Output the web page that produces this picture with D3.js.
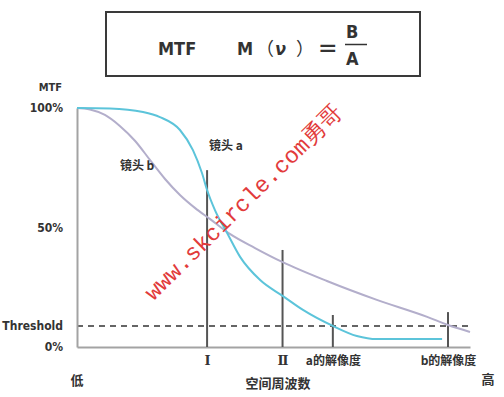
<!DOCTYPE html>
<html>
<head>
<meta charset="utf-8">
<script src="https://cdn.jsdelivr.net/npm/d3@7"></script>
<style>
  html, body { margin: 0; padding: 0; background: #fff; }
  svg { display: block; }
  .lbl { font-family: "DejaVu Sans Condensed", "DejaVu Sans", sans-serif; font-weight: bold; fill: #333; }
  .cjk { font-family: "Noto Sans CJK SC", sans-serif; font-weight: bold; fill: #333; }
</style>
</head>
<body>
<div id="chart"></div>
<script>
// spatial frequency runs 0..100 (low..high), MTF in percent
const lensAX = [0, 8.4, 16.8, 21.1, 26.2, 29.5, 31.8, 33.1, 35.1, 38.2, 41.5, 46.6, 52.4, 57.5, 65.1, 71.2, 76.3, 92.9];
const lensAY = [100, 99.8, 98.3, 96.2, 90.8, 82.4, 72.8, 65.7, 57.3, 47.7, 37.7, 28.0, 21.3, 15.5, 8.8, 4.6, 3.3, 3.3];
const lensBX = [0, 3.3, 7.1, 10.9, 14.8, 18.6, 22.4, 26.2, 30.0, 33.8, 38.9, 45.3, 52.2, 63.6, 76.3, 89.1, 94.4, 100];
const lensBY = [100, 99.4, 97.1, 92.5, 86.2, 78.2, 70.3, 63.6, 58.2, 53.6, 47.3, 41.4, 35.6, 27.6, 19.7, 12.6, 9.2, 6.3];

const markerLabels = ['Ⅰ', 'Ⅱ', 'a的解像度', 'b的解像度'];
const markerX = [33.1, 52.3, 65.1, 94.4];
const markerTop = [74, 40.6, 13.4, 14.6];

const threshold = 8.8;
const yTicks = [0, threshold, 50, 100];
const yTickLabels = ['0%', 'Threshold', '50%', '100%'];

const width = 504, height = 397;
const margin = { top: 108, right: 34, bottom: 50, left: 77 };

const svg = d3.select('#chart').append('svg')
  .attr('width', width)
  .attr('height', height);

// Formula box
svg.append('rect')
  .attr('x', 106).attr('y', 12).attr('width', 314).attr('height', 64)
  .attr('fill', '#fff').attr('stroke', '#3a3a3a').attr('stroke-width', 2);

const formula = svg.append('g').attr('class', 'lbl').style('font-size', '18px');
formula.append('text').attr('x', 158).attr('y', 55).text('MTF');
formula.append('text').attr('x', 237).attr('y', 55).text('M');
formula.append('text').attr('x', 256).attr('y', 55).attr('class', 'cjk').style('font-weight', 'normal').text('（');
formula.append('text').attr('x', 275).attr('y', 55).style('font-style', 'italic').text('ν');
formula.append('text').attr('x', 296).attr('y', 55).attr('class', 'cjk').style('font-weight', 'normal').text('）');
formula.append('text').attr('x', 318).attr('y', 57).style('font-size', '26px').style('font-weight', 'normal').text('=');
formula.append('text').attr('x', 346).attr('y', 38).text('B');
formula.append('text').attr('x', 346).attr('y', 65).text('A');
formula.append('line')
  .attr('x1', 345).attr('x2', 367).attr('y1', 44.5).attr('y2', 44.5)
  .attr('stroke', '#333').attr('stroke-width', 1.5);

// Scales
const x = d3.scaleLinear().domain([0, 100]).range([margin.left, width - margin.right]);
const y = d3.scaleLinear().domain([0, 100]).range([height - margin.bottom, margin.top]);

// Threshold dashed line
svg.append('line')
  .attr('x1', x(0)).attr('x2', x(100) + 3)
  .attr('y1', y(threshold)).attr('y2', y(threshold))
  .attr('stroke', '#333').attr('stroke-width', 1.5)
  .attr('stroke-dasharray', '6,5');

// Axes
const yAxis = d3.axisLeft(y)
  .tickValues(yTicks)
  .tickSize(0)
  .tickSizeOuter(0)
  .tickPadding(14)
  .tickFormat((d, i) => yTickLabels[i]);

svg.append('g')
  .attr('transform', `translate(${margin.left},0)`)
  .call(yAxis)
  .call(g => g.select('.domain').attr('stroke', '#a3a3a3').attr('stroke-width', 2))
  .call(g => g.selectAll('text')
    .attr('class', 'lbl')
    .style('font-size', '12px')
    .attr('font-family', null)
    .attr('fill', null));

svg.append('text')
  .attr('class', 'lbl')
  .attr('x', 62).attr('y', y(100) - 17)
  .attr('text-anchor', 'end')
  .style('font-size', '11px')
  .text('MTF');

const xAxis = d3.axisBottom(x)
  .tickValues(markerX)
  .tickSize(0)
  .tickSizeOuter(0)
  .tickPadding(9)
  .tickFormat((d, i) => markerLabels[i]);

svg.append('g')
  .attr('transform', `translate(0,${y(0)})`)
  .call(xAxis)
  .call(g => g.select('.domain').attr('stroke', '#a3a3a3').attr('stroke-width', 2))
  .call(g => g.selectAll('text')
    .attr('class', 'cjk')
    .style('font-size', '12px')
    .attr('font-family', null)
    .attr('fill', null))
  .call(g => g.selectAll('text')
    .filter((d, i) => i < 2)
    .style('font-family', '"DejaVu Serif", serif')
    .style('font-size', '13px'));

// Marker verticals
svg.append('g').selectAll('line')
  .data(markerX)
  .join('line')
  .attr('x1', d => x(d)).attr('x2', d => x(d))
  .attr('y1', (d, i) => y(markerTop[i])).attr('y2', y(0))
  .attr('stroke', '#555').attr('stroke-width', 2);

// Curves
const line = d3.line()
  .x(d => x(d[0]))
  .y(d => y(d[1]))
  .curve(d3.curveMonotoneX);

svg.append('path')
  .datum(d3.zip(lensBX, lensBY))
  .attr('fill', 'none')
  .attr('stroke', '#b3aecb')
  .attr('stroke-width', 2)
  .attr('d', line);

svg.append('path')
  .datum(d3.zip(lensAX, lensAY))
  .attr('fill', 'none')
  .attr('stroke', '#5cc4da')
  .attr('stroke-width', 2)
  .attr('d', line);

// Lens labels
svg.append('text').attr('class', 'cjk').style('font-size', '12px')
  .attr('x', x(37.9)).attr('y', y(84)).attr('dy', '0.35em')
  .attr('text-anchor', 'middle').text('镜头 a');
svg.append('text').attr('class', 'cjk').style('font-size', '12px')
  .attr('x', x(15.3)).attr('y', y(76)).attr('dy', '0.35em')
  .attr('text-anchor', 'middle').text('镜头 b');

// Bottom axis captions
svg.append('text').attr('class', 'cjk').style('font-size', '13px')
  .attr('x', x(0)).attr('y', 385).attr('text-anchor', 'middle').text('低');
svg.append('text').attr('class', 'cjk').style('font-size', '13px')
  .attr('x', 278).attr('y', 388).attr('text-anchor', 'middle').text('空间周波数');
svg.append('text').attr('class', 'cjk').style('font-size', '13px')
  .attr('x', 488).attr('y', 384).attr('text-anchor', 'middle').text('高');

// Watermark
svg.append('text')
  .attr('transform', 'translate(243,202) rotate(-44.5)')
  .attr('text-anchor', 'middle')
  .attr('dy', '0.35em')
  .style('font-family', '"Liberation Mono", "DejaVu Sans Mono", monospace')
  .style('font-size', '23px')
  .style('fill', '#e23b3b')
  .text('www.skcircle.com勇哥');
</script>
</body>
</html>
